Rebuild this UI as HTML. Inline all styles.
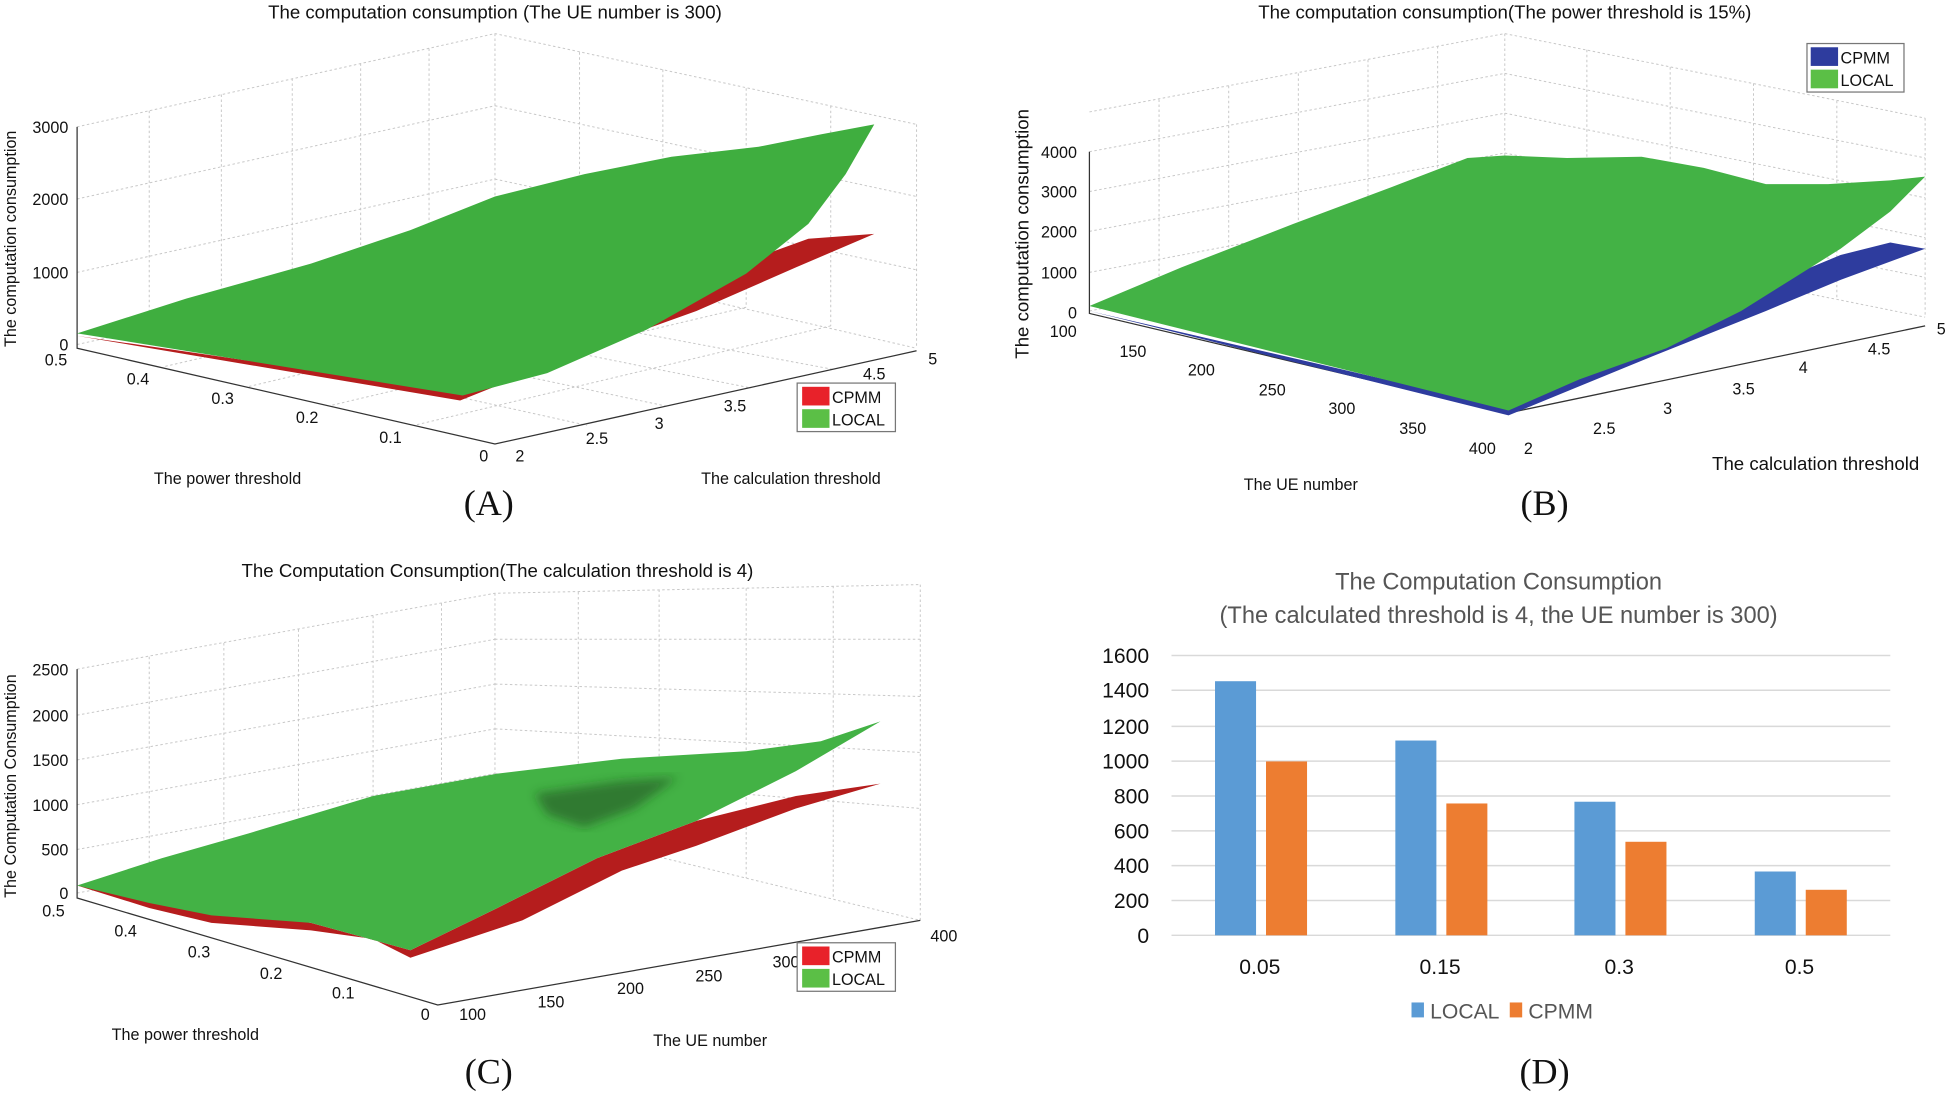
<!DOCTYPE html>
<html><head><meta charset="utf-8"><style>
html,body{margin:0;padding:0;background:#fff;}
svg{display:block;}
text{font-family:"Liberation Sans",sans-serif;fill:#111;}
.t{font-size:15px;}
.k{font-size:13px;}
.g{stroke:#c8c8c8;stroke-width:0.8;stroke-dasharray:2,2;fill:none;}
.ax{stroke:#333;stroke-width:1;fill:none;}
.lab{font-family:"Liberation Serif",serif;font-size:29px;}
.d{font-size:17px;fill:#555;}
</style></head><body>
<svg width="1950" height="1097" viewBox="0 0 1568 882" preserveAspectRatio="none" xmlns="http://www.w3.org/2000/svg">
<defs><filter id="bl"><feGaussianBlur stdDeviation="4"/></filter></defs>
<rect width="1568" height="882" fill="#fff"/>

<!-- ============ PANEL A ============ -->
<text class="t" x="398" y="15" text-anchor="middle">The computation consumption (The UE number is 300)</text>
<g class="g">
 <polyline points="62,102 398,27 737,100"/>
 <line x1="398" y1="27" x2="398" y2="202"/>
 <line x1="737" y1="100" x2="737" y2="280"/>
 <line x1="62" y1="160" x2="398" y2="85"/><line x1="398" y1="85" x2="737" y2="158"/>
 <line x1="62" y1="219" x2="398" y2="144"/><line x1="398" y1="144" x2="737" y2="217"/>
 <line x1="62" y1="277" x2="398" y2="202"/><line x1="398" y1="202" x2="737" y2="280"/>
 <line x1="120" y1="89" x2="120" y2="264"/><line x1="178" y1="76" x2="178" y2="251"/>
 <line x1="235" y1="63" x2="235" y2="238"/><line x1="290" y1="51" x2="290" y2="226"/>
 <line x1="345" y1="39" x2="345" y2="214"/>
 <line x1="466" y1="42" x2="466" y2="217"/><line x1="533" y1="56" x2="533" y2="232"/>
 <line x1="600" y1="71" x2="600" y2="247"/><line x1="668" y1="85" x2="668" y2="262"/>
 <line x1="466" y1="217" x2="131" y2="295"/><line x1="533" y1="232" x2="199" y2="311"/>
 <line x1="600" y1="247" x2="266" y2="326"/><line x1="668" y1="262" x2="333" y2="342"/>
 <line x1="120" y1="264" x2="472" y2="342"/><line x1="178" y1="251" x2="538" y2="327"/>
 <line x1="235" y1="238" x2="604" y2="312"/><line x1="290" y1="226" x2="670" y2="297"/>
</g>
<polyline class="ax" points="62,102 62,280 398,357 737,282"/>
<polygon points="62,270 370,322 460,286 560,250 640,215 703,188 650,192 600,210 470,270 372,315" fill="#b51d1d"/>
<polygon points="62,268 150,240 250,212 330,185 398,158 470,140 540,126 610,118 660,108 703,100 680,140 650,180 600,220 520,265 440,300 372,318" fill="#3fae3f"/>
<g class="k" text-anchor="end">
 <text x="55" y="107">3000</text><text x="55" y="165">2000</text><text x="55" y="224">1000</text><text x="55" y="282">0</text>
</g>
<g class="k" text-anchor="middle">
 <text x="45" y="294">0.5</text><text x="111" y="309">0.4</text><text x="179" y="325">0.3</text><text x="247" y="340">0.2</text><text x="314" y="356">0.1</text><text x="389" y="371">0</text>
 <text x="418" y="371">2</text><text x="480" y="357">2.5</text><text x="530" y="345">3</text><text x="591" y="331">3.5</text><text x="703" y="305">4.5</text><text x="750" y="293">5</text>
</g>
<text class="k" transform="translate(13,192) rotate(-90)" text-anchor="middle">The computation consumption</text>
<text class="k" x="183" y="389" text-anchor="middle">The power threshold</text>
<text class="k" x="636" y="389" text-anchor="middle">The calculation threshold</text>
<rect x="641" y="308" width="79" height="39" fill="#fff" stroke="#777"/>
<rect x="645" y="311" width="22" height="15" fill="#e8222a"/><rect x="645" y="329" width="22" height="15" fill="#5bbf46"/>
<text class="k" x="669" y="324">CPMM</text><text class="k" x="669" y="342">LOCAL</text>
<text class="lab" x="393" y="414" text-anchor="middle">(A)</text>

<!-- ============ PANEL B ============ -->
<text class="t" x="1210" y="15" text-anchor="middle">The computation consumption(The power threshold is 15%)</text>
<g class="g">
 <polyline points="876,90 1210,27 1548,95"/>
 <line x1="1210" y1="27" x2="1210" y2="187"/>
 <line x1="1548" y1="95" x2="1548" y2="255"/>
 <line x1="876" y1="122" x2="1210" y2="59"/><line x1="1210" y1="59" x2="1548" y2="127"/>
 <line x1="876" y1="154" x2="1210" y2="91"/><line x1="1210" y1="91" x2="1548" y2="159"/>
 <line x1="876" y1="186" x2="1210" y2="123"/><line x1="1210" y1="123" x2="1548" y2="191"/>
 <line x1="876" y1="219" x2="1210" y2="156"/><line x1="1210" y1="156" x2="1548" y2="223"/>
 <line x1="876" y1="250" x2="1210" y2="187"/><line x1="1210" y1="187" x2="1548" y2="255"/>
 <line x1="932" y1="80" x2="932" y2="240"/><line x1="988" y1="69" x2="988" y2="229"/>
 <line x1="1044" y1="59" x2="1044" y2="219"/><line x1="1100" y1="48" x2="1100" y2="208"/>
 <line x1="1156" y1="37" x2="1156" y2="197"/>
 <line x1="1276" y1="40" x2="1276" y2="200"/><line x1="1343" y1="54" x2="1343" y2="214"/>
 <line x1="1410" y1="67" x2="1410" y2="227"/><line x1="1477" y1="81" x2="1477" y2="241"/>
</g>
<polyline class="ax" points="876,122 876,252 1213,332 1548,262"/>
<polygon points="876,250 1213,334 1320,290 1420,250 1480,225 1548,200 1520,195 1480,205 1420,230 1350,270 1213,328" fill="#2e3c9e"/>
<polygon points="876,246 950,215 1040,180 1120,150 1180,127 1210,125 1260,127 1320,126 1370,135 1420,148 1470,148 1520,145 1548,142 1520,170 1480,200 1440,225 1400,250 1340,280 1270,305 1213,330" fill="#43b245"/>
<g class="k" text-anchor="end">
 <text x="866" y="127">4000</text><text x="866" y="159">3000</text><text x="866" y="191">2000</text><text x="866" y="224">1000</text><text x="866" y="256">0</text>
</g>
<g class="k" text-anchor="middle">
 <text x="855" y="271">100</text><text x="911" y="287">150</text><text x="966" y="302">200</text><text x="1023" y="318">250</text><text x="1079" y="333">300</text><text x="1136" y="349">350</text><text x="1192" y="365">400</text>
 <text x="1229" y="365">2</text><text x="1290" y="349">2.5</text><text x="1341" y="333">3</text><text x="1402" y="317">3.5</text><text x="1450" y="300">4</text><text x="1511" y="285">4.5</text><text x="1561" y="269">5</text>
</g>
<text transform="translate(827,188) rotate(-90)" text-anchor="middle" style="font-size:15px">The computation consumption</text>
<text class="k" x="1046" y="394" text-anchor="middle">The UE number</text>
<text x="1460" y="378" text-anchor="middle" style="font-size:15px">The calculation threshold</text>
<rect x="1453" y="35" width="78" height="39" fill="#fff" stroke="#777"/>
<rect x="1456" y="38" width="22" height="15" fill="#2e3c9e"/><rect x="1456" y="56" width="22" height="15" fill="#5bbf46"/>
<text class="k" x="1480" y="51">CPMM</text><text class="k" x="1480" y="69">LOCAL</text>
<text class="lab" x="1242" y="414" text-anchor="middle">(B)</text>

<!-- ============ PANEL C ============ -->
<text class="t" x="400" y="464" text-anchor="middle">The Computation Consumption(The calculation threshold is 4)</text>
<g class="g">
 <polyline points="62,538 398,477 740,470"/>
 <line x1="398" y1="477" x2="398" y2="657"/>
 <line x1="740" y1="470" x2="740" y2="740"/>
 <line x1="62" y1="575" x2="398" y2="514"/><line x1="398" y1="514" x2="740" y2="514"/>
 <line x1="62" y1="611" x2="398" y2="550"/><line x1="398" y1="550" x2="740" y2="560"/>
 <line x1="62" y1="647" x2="398" y2="586"/><line x1="398" y1="586" x2="740" y2="605"/>
 <line x1="62" y1="683" x2="398" y2="622"/><line x1="398" y1="622" x2="740" y2="650"/>
 <line x1="62" y1="718" x2="398" y2="657"/><line x1="398" y1="657" x2="740" y2="740"/>
 <line x1="120" y1="528" x2="120" y2="708"/><line x1="180" y1="517" x2="180" y2="697"/>
 <line x1="240" y1="506" x2="240" y2="686"/><line x1="300" y1="495" x2="300" y2="675"/>
 <line x1="355" y1="485" x2="355" y2="665"/>
 <line x1="465" y1="476" x2="465" y2="673"/><line x1="530" y1="474" x2="530" y2="689"/>
 <line x1="600" y1="473" x2="600" y2="706"/><line x1="670" y1="471" x2="670" y2="723"/>
</g>
<polyline class="ax" points="62,538 62,722 352,808 740,740"/>
<polygon points="62,712 120,730 170,742 250,748 300,755 330,770 420,740 500,700 560,680 640,650 708,630 640,640 560,660 480,690 400,730 330,764 250,742" fill="#b51d1d"/>
<polygon points="62,712 130,690 200,670 300,640 400,622 500,610 600,604 660,596 708,580 640,620 560,660 480,690 400,730 330,764 250,742 170,736 120,726" fill="#43b245"/>
<g filter="url(#bl)"><polygon points="430,638 500,628 545,625 510,650 470,665 440,655" fill="#1e4a1e" opacity="0.55"/></g>
<g class="k" text-anchor="end">
 <text x="55" y="543">2500</text><text x="55" y="580">2000</text><text x="55" y="616">1500</text><text x="55" y="652">1000</text><text x="55" y="688">500</text><text x="55" y="723">0</text>
</g>
<g class="k" text-anchor="middle">
 <text x="43" y="737">0.5</text><text x="101" y="753">0.4</text><text x="160" y="770">0.3</text><text x="218" y="787">0.2</text><text x="276" y="803">0.1</text><text x="342" y="820">0</text>
 <text x="380" y="820">100</text><text x="443" y="810">150</text><text x="507" y="799">200</text><text x="570" y="789">250</text><text x="632" y="778">300</text><text x="759" y="757">400</text>
</g>
<text class="k" transform="translate(13,632) rotate(-90)" text-anchor="middle">The Computation Consumption</text>
<text class="k" x="149" y="836" text-anchor="middle">The power threshold</text>
<text class="k" x="571" y="841" text-anchor="middle">The UE number</text>
<rect x="641" y="758" width="79" height="39" fill="#fff" stroke="#777"/>
<rect x="645" y="761" width="22" height="15" fill="#e8222a"/><rect x="645" y="779" width="22" height="15" fill="#5bbf46"/>
<text class="k" x="669" y="774">CPMM</text><text class="k" x="669" y="792">LOCAL</text>
<text class="lab" x="393" y="871" text-anchor="middle">(C)</text>

<!-- ============ PANEL D ============ -->
<text x="1205" y="474" text-anchor="middle" style="font-size:19px;fill:#555">The Computation Consumption</text>
<text x="1205" y="501" text-anchor="middle" style="font-size:19px;fill:#555">(The calculated threshold is 4, the UE number is 300)</text>
<g stroke="#d9d9d9" stroke-width="1.2">
 <line x1="942" y1="527" x2="1520" y2="527"/><line x1="942" y1="555" x2="1520" y2="555"/>
 <line x1="942" y1="584" x2="1520" y2="584"/><line x1="942" y1="612" x2="1520" y2="612"/>
 <line x1="942" y1="640" x2="1520" y2="640"/><line x1="942" y1="668" x2="1520" y2="668"/>
 <line x1="942" y1="696" x2="1520" y2="696"/><line x1="942" y1="724" x2="1520" y2="724"/>
 <line x1="942" y1="752" x2="1520" y2="752"/>
</g>
<g class="d" text-anchor="end">
 <text x="924" y="533">1600</text><text x="924" y="561">1400</text><text x="924" y="590">1200</text><text x="924" y="618">1000</text>
 <text x="924" y="646">800</text><text x="924" y="674">600</text><text x="924" y="702">400</text><text x="924" y="730">200</text><text x="924" y="758">0</text>
</g>
<g fill="#5b9bd5">
 <rect x="977" y="547.7" width="33" height="204.3"/>
 <rect x="1122" y="595.4" width="33" height="156.6"/>
 <rect x="1266" y="644.6" width="33" height="107.4"/>
 <rect x="1411" y="700.7" width="33" height="51.3"/>
</g>
<g fill="#ed7d31">
 <rect x="1018" y="612.2" width="33" height="139.8"/>
 <rect x="1163" y="646" width="33" height="106"/>
 <rect x="1307" y="676.8" width="33" height="75.2"/>
 <rect x="1452" y="715.4" width="33" height="36.6"/>
</g>
<g class="d" text-anchor="middle">
 <text x="1013" y="783">0.05</text><text x="1158" y="783">0.15</text><text x="1302" y="783">0.3</text><text x="1447" y="783">0.5</text>
</g>
<rect x="1135" y="806" width="10" height="12" fill="#5b9bd5"/><text class="d" x="1150" y="819">LOCAL</text>
<rect x="1214" y="806" width="10" height="12" fill="#ed7d31"/><text class="d" x="1229" y="819">CPMM</text>
<text class="lab" x="1242" y="871" text-anchor="middle">(D)</text>
</svg>
</body></html>
